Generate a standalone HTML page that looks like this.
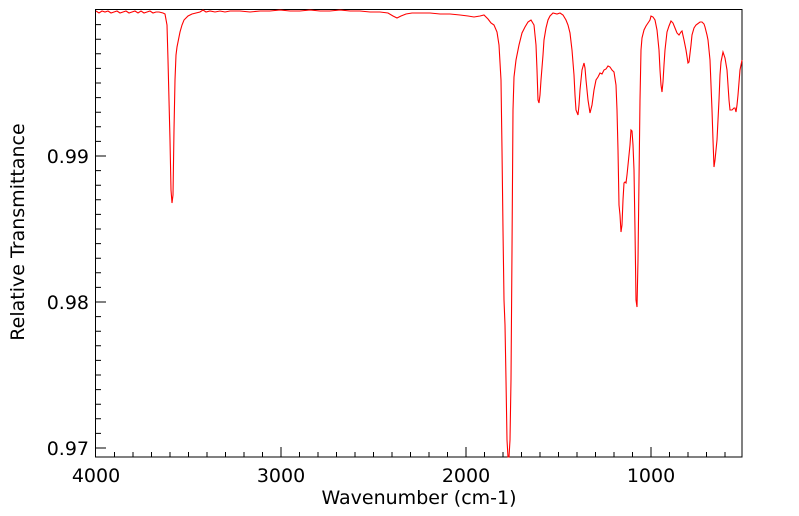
<!DOCTYPE html>
<html><head><style>
html,body{margin:0;padding:0;background:#fff;}
svg{display:block;font-family:"DejaVu Sans","Liberation Sans",sans-serif;}
</style></head><body>
<svg width="799" height="516" viewBox="0 0 799 516">
<rect x="0" y="0" width="799" height="516" fill="#fff"/>
<g stroke="#000" stroke-width="1" fill="none">
<rect x="95.5" y="9.5" width="646.5" height="447.5"/>
<path d="M96,448h10 M96,302h10 M96,156h10 M96,433.4h5 M96,418.8h5 M96,404.2h5 M96,389.6h5 M96,375h5 M96,360.4h5 M96,345.8h5 M96,331.2h5 M96,316.6h5 M96,287.4h5 M96,272.8h5 M96,258.2h5 M96,243.6h5 M96,229h5 M96,214.4h5 M96,199.8h5 M96,185.2h5 M96,170.6h5 M96,141.4h5 M96,126.8h5 M96,112.2h5 M96,97.6h5 M96,83h5 M96,68.4h5 M96,53.8h5 M96,39.2h5 M96,24.6h5"/>
<path d="M281,457v-10 M466,457v-10 M651,457v-10 M114.5,457v-5 M133,457v-5 M151.5,457v-5 M170,457v-5 M188.5,457v-5 M207,457v-5 M225.5,457v-5 M244,457v-5 M262.5,457v-5 M299.5,457v-5 M318,457v-5 M336.5,457v-5 M355,457v-5 M373.5,457v-5 M392,457v-5 M410.5,457v-5 M429,457v-5 M447.5,457v-5 M484.5,457v-5 M503,457v-5 M521.5,457v-5 M540,457v-5 M558.5,457v-5 M577,457v-5 M595.5,457v-5 M614,457v-5 M632.5,457v-5 M669.5,457v-5 M688,457v-5 M706.5,457v-5 M725,457v-5"/>
</g>
<g font-size="19" fill="#000">
<text x="89" y="163" text-anchor="end">0.99</text>
<text x="89" y="309" text-anchor="end">0.98</text>
<text x="89" y="455" text-anchor="end">0.97</text>
<text x="96" y="482" text-anchor="middle">4000</text>
<text x="281" y="482" text-anchor="middle">3000</text>
<text x="466" y="482" text-anchor="middle">2000</text>
<text x="651" y="482" text-anchor="middle">1000</text>
<text x="419" y="504" text-anchor="middle">Wavenumber (cm-1)</text>
<text transform="translate(24,232) rotate(-90)" text-anchor="middle">Relative Transmittance</text>
</g>
<polyline fill="none" stroke="#ff0000" stroke-width="1.1" points="
96,11 99,13 102,11 105,12 108,11 111,13 114,12 117,11 120,13 123,12 126,11 129,13 132,12 135,11 138,13 141,11 144,13 147,12 150,11 153,13 156,12 159,12 163,13 165,14 167,25 168,60 170,140 171,190 172,203 173,195 174,130 175,80 176,55 177,47 178,42 180,32 182,25 184,20 188,16 192,14 196,13 200,12 203,10 206,12 210,11 215,12 220,11 225,12 230,11 240,11 250,12 260,11 270,11 280,10 290,11 300,11 310,10 320,11 330,11 340,10 350,11 360,11 370,12 380,12 388,13 393,16 397,18 401,16 406,14 412,13 420,13 430,13 440,14 450,14 460,15 468,16 474,17 480,16 484,15 488,19 491,23 494,25 497,32 499,45 501,80 502,150 503,230 504,300 505,325 506,380 507,440 508,457 509,457 510,440 511,380 512,250 513,110 514,77 516,60 519,45 522,33 525,27 528,22 531,20 534,25 536,45 537,70 538,100 539,103 540,95 541,80 543,55 544,40 546,28 548,20 550,16 553,13 557,14 560,13 563,15 566,20 568,25 570,33 572,50 574,75 575,95 576,110 578,115 579,105 580,90 582,70 584,63 585,68 586,80 588,100 590,113 592,105 594,90 596,80 598,77 600,73 602,74 604,70 606,69 608,66 610,67 612,70 614,72 616,85 617,110 618,150 619,205 620,215 621,232 622,225 623,200 624,183 625,182 626,183 627,175 628,165 630,145 631,130 632,131 633,145 634,170 635,230 636,300 637,307 638,260 639,180 640,100 641,50 642,38 644,30 646,26 648,23 650,20 651,16 653,17 655,20 657,30 659,50 660,70 661,85 662,92 663,82 664,65 665,50 667,32 669,26 671,21 673,23 675,28 677,33 679,35 681,32 682,31 684,40 686,50 688,63 689,62 691,45 692,35 694,28 696,25 700,22 702,22 704,24 705,27 707,35 708,40 710,60 711,85 712,110 713,140 714,167 715,160 716,150 717,140 718,120 719,100 720,75 721,62 723,52 725,58 727,70 728,85 729,100 730,110 732,110 734,108 735,108 736,112 737,105 738,95 740,70 742,60"/>
</svg>
</body></html>
